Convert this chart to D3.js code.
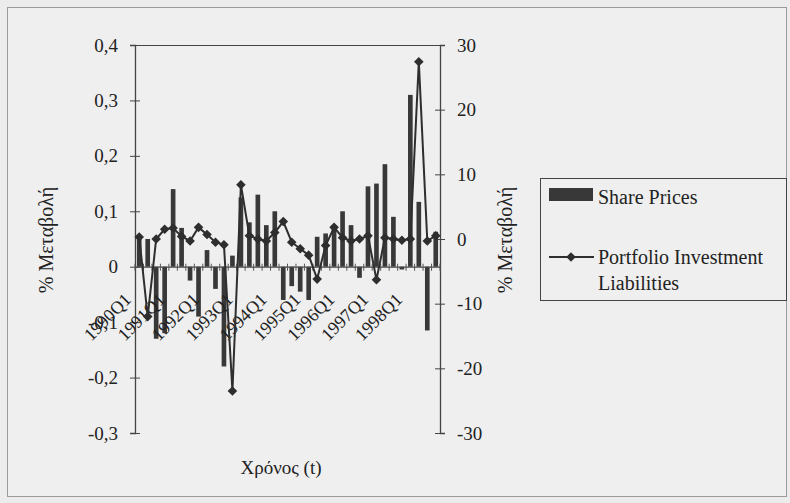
<!DOCTYPE html>
<html>
<head>
<meta charset="utf-8">
<script src="https://cdn.jsdelivr.net/npm/d3@7"></script>
<style>
  html, body { margin: 0; padding: 0; background: #ececec; }
  svg { display: block; }
  text { font-family: "Liberation Serif", "Times New Roman", serif; fill: #222; }
</style>
</head>
<body>
<svg id="chart" width="790" height="503"></svg>
<script>
// ---------- data ----------
const categories = [
  "1990Q1","1990Q2","1990Q3","1990Q4",
  "1991Q1","1991Q2","1991Q3","1991Q4",
  "1992Q1","1992Q2","1992Q3","1992Q4",
  "1993Q1","1993Q2","1993Q3","1993Q4",
  "1994Q1","1994Q2","1994Q3","1994Q4",
  "1995Q1","1995Q2","1995Q3","1995Q4",
  "1996Q1","1996Q2","1996Q3","1996Q4",
  "1997Q1","1997Q2","1997Q3","1997Q4",
  "1998Q1","1998Q2","1998Q3","1998Q4"
];
// Share Prices (% change, left axis)
const sharePrices = [
  0.05, 0.05, -0.13, -0.12,
  0.14, 0.07, -0.025, -0.09,
  0.03, -0.04, -0.18, 0.02,
  0.125, 0.08, 0.13, 0.075,
  0.10, -0.06, -0.035, -0.045,
  -0.06, 0.054, 0.06, 0.075,
  0.10, 0.075, -0.02, 0.145,
  0.15, 0.185, 0.09, -0.005,
  0.31, 0.117, -0.115, 0.063
];
// Portfolio Investment Liabilities (% change, right axis)
const portfolioLiabilities = [
  0.3, -12, 0, 1.5,
  1.7, 0.4, -0.3, 1.8,
  0.7, -0.5, -0.9, -23.5,
  8.4, 0.5, 0.0, -0.3,
  1.0, 2.7, -0.5, -1.5,
  -2.5, -6.2, -1.0, 1.8,
  0.2, -0.3, 0, 0.5,
  -6.3, 0.2, 0, -0.2,
  0, 27.4, -0.3, 0.5
];
const leftTicks = [0.4, 0.3, 0.2, 0.1, 0, -0.1, -0.2, -0.3];
const rightTicks = [30, 20, 10, 0, -10, -20, -30];
const xLabels = ["1990Q1","1991Q1","1992Q1","1993Q1","1994Q1","1995Q1","1996Q1","1997Q1","1998Q1"];
const seriesNames = ["Share Prices", "Portfolio Investment Liabilities"];
const axisTitle = "% Μεταβολή";
const xTitle = "Χρόνος (t)";

// ---------- layout ----------
const svg = d3.select("#chart");
const L = 135, R = 440, T = 45, B = 433;
const barColor = "#383838", lineColor = "#2e2e2e";

svg.append("rect").attr("x", 7.5).attr("y", 7.5).attr("width", 779).attr("height", 489)
  .attr("fill", "#efefef").attr("stroke", "#9a9a9a").attr("stroke-width", 1);

const x = d3.scaleBand().domain(categories).range([L, R]).paddingInner(0.45).paddingOuter(0.225);
const yL = d3.scaleLinear().domain([-0.3, 0.4]).range([B, T]);
const yR = d3.scaleLinear().domain([-30, 30]).range([B, T]);
const cx = c => x(c) + x.bandwidth() / 2;

// plot area top border
svg.append("line").attr("x1", L).attr("x2", R).attr("y1", T + 0.5).attr("y2", T + 0.5)
  .attr("stroke", "#444").attr("stroke-width", 1);

const fmtL = d => d === 0 ? "0" : (d < 0 ? "-" : "") + Math.abs(d).toFixed(1).replace(".", ",");
const fmtR = d => (d < 0 ? "-" : "") + Math.abs(d);

// left axis
const gL = svg.append("g").attr("transform", `translate(${L},0)`)
  .call(d3.axisLeft(yL).tickValues(leftTicks).tickFormat(fmtL).tickSize(5).tickPadding(12));
gL.select(".domain").attr("stroke", "#444").attr("stroke-width", 1.3);
gL.selectAll(".tick line").attr("x1", -5).attr("x2", 5).attr("stroke", "#444");
gL.selectAll(".tick text").style("font-size", "19px").attr("fill", "#222");

// right axis
const gR = svg.append("g").attr("transform", `translate(${R},0)`)
  .call(d3.axisRight(yR).tickValues(rightTicks).tickFormat(fmtR).tickSize(5).tickPadding(12));
gR.select(".domain").attr("stroke", "#444").attr("stroke-width", 1.3);
gR.selectAll(".tick line").attr("x1", -5).attr("x2", 5).attr("stroke", "#444");
gR.selectAll(".tick text").style("font-size", "19px").attr("fill", "#222");

// bars
svg.append("g").selectAll("rect").data(categories).join("rect")
  .attr("x", c => x(c))
  .attr("width", x.bandwidth())
  .attr("y", (c, i) => yL(Math.max(0, sharePrices[i])))
  .attr("height", (c, i) => Math.abs(yL(sharePrices[i]) - yL(0)))
  .attr("fill", barColor);

// category axis at zero
const y0 = yL(0);
const gX = svg.append("g").attr("transform", `translate(0,${y0})`)
  .call(d3.axisBottom(x).tickSize(0).tickFormat(""));
gX.select(".domain").attr("stroke", "#444").attr("stroke-width", 1.2);
const step = x.step();
svg.append("g").selectAll("line").data(categories.concat(["__end"])).join("line")
  .attr("x1", (c, i) => L + i * step).attr("x2", (c, i) => L + i * step)
  .attr("y1", y0 - 3).attr("y2", y0 + 4)
  .attr("stroke", "#555").attr("stroke-width", 1);

// category labels
svg.append("g").selectAll("text").data(xLabels).join("text")
  .attr("transform", c => `translate(${cx(c) - 7},${y0 + 34}) rotate(-45)`)
  .attr("text-anchor", "end")
  .style("font-size", "18px")
  .text(c => c);

// line series
const line = d3.line().x((d, i) => cx(categories[i])).y(d => yR(d));
svg.append("path").datum(portfolioLiabilities)
  .attr("d", line).attr("fill", "none").attr("stroke", lineColor).attr("stroke-width", 2);
svg.append("g").selectAll("path").data(portfolioLiabilities).join("path")
  .attr("d", d3.symbol().type(d3.symbolSquare).size(46))
  .attr("transform", (d, i) => `translate(${cx(categories[i])},${yR(d)}) rotate(45)`)
  .attr("fill", lineColor);

// axis titles
svg.append("text").attr("transform", "translate(53,240) rotate(-90)")
  .attr("text-anchor", "middle").style("font-size", "20px").text(axisTitle);
svg.append("text").attr("transform", "translate(512,240) rotate(-90)")
  .attr("text-anchor", "middle").style("font-size", "20px").text(axisTitle);
svg.append("text").attr("x", 281).attr("y", 474)
  .attr("text-anchor", "middle").style("font-size", "19px").text(xTitle);

// legend
const lg = svg.append("g");
lg.append("rect").attr("x", 540.5).attr("y", 178.5).attr("width", 246).attr("height", 122)
  .attr("fill", "#efefef").attr("stroke", "#444").attr("stroke-width", 1);
lg.append("rect").attr("x", 549).attr("y", 188).attr("width", 44).attr("height", 13).attr("fill", barColor);
lg.append("text").attr("x", 598).attr("y", 204).style("font-size", "20px").text(seriesNames[0]);
lg.append("line").attr("x1", 549).attr("x2", 594).attr("y1", 257).attr("y2", 257)
  .attr("stroke", lineColor).attr("stroke-width", 2);
lg.append("path").attr("d", d3.symbol().type(d3.symbolSquare).size(46))
  .attr("transform", "translate(571,257) rotate(45)").attr("fill", lineColor);
lg.append("text").attr("x", 598).attr("y", 264).style("font-size", "20px").text("Portfolio Investment");
lg.append("text").attr("x", 598).attr("y", 290).style("font-size", "20px").text("Liabilities");
</script>
</body>
</html>
